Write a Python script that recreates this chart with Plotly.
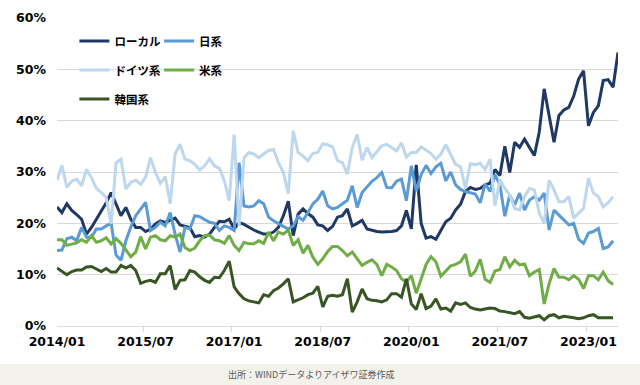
import plotly.graph_objects as go
import pandas as pd

# monthly categories 2014/01 .. 2023/07
months = [d.strftime('%Y/%m') for d in pd.date_range('2014-01-01', periods=115, freq='MS')]

local = [23.2, 22.1, 23.8, 22.5, 21.7, 20.8, 17.9, 19.2, 20.8, 22.5,
         24.0, 26.0, 23.8, 21.5, 23.1, 20.8, 19.2, 19.2, 18.4, 18.9,
         19.9, 20.5, 20.2, 20.6, 21.0, 19.7, 19.5, 19.2, 17.4, 17.6,
         17.3, 17.9, 19.2, 20.4, 20.3, 20.8, 18.9, 20.2, 19.8, 19.2,
         18.7, 18.3, 17.9, 17.9, 18.3, 19.2, 21.5, 24.3, 17.6, 21.8,
         22.8, 21.9, 21.2, 19.7, 19.5, 18.6, 19.4, 21.2, 21.5, 22.8,
         19.5, 20.0, 20.6, 18.9, 18.6, 18.4, 18.3, 18.3, 18.4, 18.6,
         19.5, 22.5, 18.9, 31.4, 20.0, 17.1, 17.4, 16.9, 18.7, 20.3,
         21.0, 22.6, 23.7, 26.2, 27.0, 26.6, 26.8, 27.5, 27.8, 30.5,
         29.3, 35.0, 29.9, 35.8, 34.8, 36.4, 34.8, 33.2, 37.8, 46.2,
         41.0, 35.8, 41.0, 42.1, 42.6, 44.8, 48.1, 49.7, 39.0, 41.6,
         42.9, 47.8, 48.0, 46.5, 53.3]

japan = [14.7, 14.8, 17.0, 17.3, 16.6, 19.2, 17.3, 17.3, 18.9, 18.9,
         19.5, 20.0, 13.8, 12.8, 16.6, 19.3, 21.5, 22.8, 24.1, 18.6,
         19.2, 20.2, 19.5, 22.1, 17.9, 14.4, 19.2, 18.9, 21.5, 21.3,
         20.8, 20.2, 20.0, 18.6, 19.5, 19.2, 18.6, 31.8, 23.4, 23.2,
         23.4, 24.4, 23.8, 21.2, 20.5, 19.9, 19.4, 18.9, 19.5, 21.3,
         20.6, 22.1, 23.8, 24.7, 26.3, 23.4, 22.8, 23.1, 23.8, 24.5,
         27.3, 23.1, 26.0, 27.0, 28.2, 28.9, 29.9, 27.0, 26.9, 28.2,
         28.6, 24.4, 31.2, 26.3, 29.5, 31.3, 29.7, 31.0, 31.7, 28.3,
         30.0, 27.5, 26.6, 26.2, 26.0, 25.7, 24.0, 27.7, 26.2, 29.5,
         27.5, 21.4, 25.5, 23.6, 25.9, 22.6, 24.5, 25.2, 24.5, 25.9,
         18.7, 22.6, 21.6, 20.7, 19.7, 20.0, 16.9, 16.1, 18.1, 18.4,
         19.0, 15.1, 15.4, 16.6, None]

germany = [28.4, 31.3, 27.0, 28.2, 28.6, 27.3, 30.5, 28.9, 26.8, 26.0,
           25.0, 19.9, 31.8, 32.5, 26.7, 28.0, 28.4, 27.6, 29.0, 32.8,
           29.9, 27.8, 29.1, 23.8, 33.5, 35.4, 32.5, 32.2, 31.5, 30.4,
           31.2, 32.6, 31.2, 30.7, 28.3, 24.4, 37.3, 19.5, 32.8, 33.8,
           33.5, 32.8, 33.5, 34.2, 34.4, 31.8, 29.9, 25.8, 38.0, 33.8,
           33.1, 32.2, 33.6, 33.8, 35.5, 35.3, 34.9, 32.2, 31.8, 29.6,
           34.8, 37.3, 32.3, 34.8, 32.8, 34.0, 35.1, 35.4, 34.8, 34.1,
           35.7, 32.9, 33.8, 33.8, 34.9, 34.2, 33.6, 32.5, 33.5, 35.3,
           33.5, 31.5, 31.0, 26.8, 31.6, 31.4, 31.7, 30.5, 32.5, 23.4,
           28.5, 26.8, 25.5, 22.9, 22.6, 25.2, 26.8, 26.5, 22.0, 20.0,
           28.4, 26.5, 24.2, 24.2, 25.2, 21.0, 22.0, 22.9, 28.8, 25.9,
           25.2, 23.2, 24.0, 25.2, None]

usa = [16.8, 16.8, 15.7, 16.0, 16.2, 16.8, 16.3, 17.6, 16.3, 16.6,
       17.2, 16.0, 17.0, 16.1, 14.7, 13.5, 14.4, 17.4, 15.0, 17.3,
       17.6, 16.8, 16.6, 17.6, 17.3, 17.9, 15.3, 14.7, 15.2, 16.6,
       17.6, 17.7, 16.8, 16.6, 16.1, 17.6, 15.7, 14.7, 16.3, 16.0,
       16.0, 16.6, 16.1, 18.3, 16.6, 18.3, 17.9, 18.7, 15.7, 16.8,
       14.2, 15.7, 13.4, 12.0, 13.1, 14.5, 15.5, 15.5, 14.7, 13.7,
       14.4, 13.1, 11.8, 12.4, 12.9, 12.0, 9.8, 12.0, 11.5, 10.8,
       9.2, 8.5, 9.8, 6.4, 9.0, 12.0, 13.5, 12.5, 9.7, 10.7,
       11.7, 12.0, 12.5, 14.0, 9.7, 10.7, 13.0, 9.1, 8.5, 10.7,
       11.0, 13.5, 11.5, 12.8, 11.9, 12.1, 9.8, 10.5, 11.0, 4.3,
       8.2, 11.2, 9.5, 9.5, 9.0, 9.8, 9.1, 7.3, 9.8, 9.8,
       9.0, 10.5, 8.8, 8.1, None]

korea = [11.3, 10.6, 10.0, 10.6, 10.9, 10.9, 11.5, 11.6, 11.1, 10.6,
         11.2, 10.5, 10.5, 11.8, 11.3, 11.8, 10.8, 8.3, 8.7, 8.9,
         8.5, 10.2, 10.2, 11.8, 7.1, 8.9, 9.0, 10.8, 10.5, 9.6,
         8.9, 8.5, 9.5, 9.4, 10.8, 12.6, 7.6, 6.3, 5.3, 4.9,
         4.7, 4.5, 6.1, 5.8, 6.9, 7.4, 8.2, 9.2, 4.7, 5.1,
         5.5, 6.1, 6.4, 7.7, 3.7, 5.8, 6.0, 5.8, 6.1, 9.2,
         2.7, 4.7, 7.2, 5.3, 5.0, 4.9, 4.7, 5.1, 6.3, 6.3,
         5.6, 9.2, 4.3, 3.2, 6.3, 3.4, 3.9, 5.3, 3.3, 3.5,
         2.9, 4.5, 4.2, 4.5, 3.6, 3.3, 3.1, 3.3, 3.5, 3.4,
         2.9, 2.8, 2.6, 2.4, 2.8, 1.7, 1.5, 1.7, 2.0, 1.2,
         2.0, 2.2, 1.6, 1.9, 1.8, 1.6, 1.4, 1.6, 2.0, 2.2,
         1.6, 1.6, 1.6, 1.6, None]

names = ['ローカル', '日系', 'ドイツ系', '米系', '韓国系']
series = [local, japan, germany, usa, korea]
colors = ['#203864', '#5B9BD5', '#BDD7EE', '#70AD47', '#375623']
legend_ids = ['legend', 'legend2', 'legend3', 'legend4', 'legend5']

fig = go.Figure()
for nm, vals, col, lg in zip(names, series, colors, legend_ids):
    fig.add_trace(go.Scatter(x=months, y=vals, name=nm, mode='lines',
                             line=dict(color=col, width=3),
                             legend=lg, connectgaps=False))

lfont = dict(family='Noto Sans CJK JP', size=11.5, color='#000000', weight='bold')
leg_common = dict(font=lfont, bgcolor='rgba(0,0,0,0)', borderwidth=0,
                  xanchor='left', yanchor='middle', orientation='h')
c1, c2 = 0.031, 0.182
r1, r2, r3 = 0.925, 0.831, 0.737

tfont = dict(family='DejaVu Sans', size=12.5, color='#000000', weight='bold')

fig.update_layout(
    width=640, height=385,
    margin=dict(l=57, r=22, t=18, b=59, autoexpand=False),
    paper_bgcolor='white', plot_bgcolor='white',
    showlegend=True,
    legend=dict(x=c1, y=r1, **leg_common),
    legend2=dict(x=c2, y=r1, **leg_common),
    legend3=dict(x=c1, y=r2, **leg_common),
    legend4=dict(x=c2, y=r2, **leg_common),
    legend5=dict(x=c1, y=r3, **leg_common),
    xaxis=dict(type='category', tickmode='linear', tick0=0, dtick=18,
               tickson='boundaries', ticks='outside', ticklen=5,
               tickcolor='#D9D9D9', showgrid=False, showline=True,
               linecolor='#D9D9D9', linewidth=1, tickfont=tfont,
               tickangle=0, automargin=False,
               ticklabelstandoff=4, zeroline=False),
    yaxis=dict(range=[0, 60], dtick=10, ticksuffix='%', showgrid=True,
               gridcolor='#D9D9D9', gridwidth=1, zeroline=False,
               showline=False, ticks='', tickfont=tfont, automargin=False,
               ticklabelstandoff=10),
    shapes=[dict(type='rect', xref='paper', yref='paper',
                 x0=-0.2, x1=1.2, y0=-0.25, y1=-0.1234,
                 fillcolor='#F2F1EA', line=dict(width=0), layer='below')],
    annotations=[dict(text='出所：WINDデータよりアイザワ証券作成',
                      xref='paper', yref='paper', x=0.4545, y=-0.159,
                      xanchor='center', yanchor='middle', showarrow=False,
                      font=dict(family='Noto Sans CJK JP', size=9,
                                color='#595959'))],
)

fig.write_html('out.html', config={'displayModeBar': False},
               post_script="document.body.style.margin='0';document.body.style.padding='0';")
